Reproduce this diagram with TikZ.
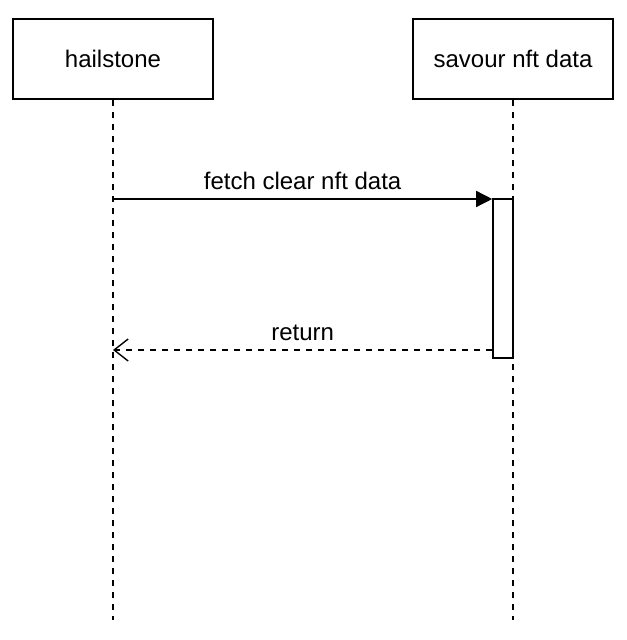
\documentclass[tikz,border=0pt]{standalone}
\usepackage{fontspec}
\setmainfont{Liberation Sans}
\usetikzlibrary{arrows.meta,positioning}

\begin{document}
\begin{tikzpicture}[x=0.5pt,y=-0.5pt,
    actor/.style={draw,line width=1pt,minimum width=100pt,minimum height=40pt,font=\fontsize{12}{14}\selectfont},
    lifeline/.style={line width=0.6pt,dash pattern=on 3pt off 3pt},
    activation/.style={draw,fill=white,line width=0.8pt,minimum width=10pt,minimum height=79.5pt,inner sep=0pt},
    msg/.style={line width=0.7pt,-{Triangle[length=8pt,width=8pt]}},
    reply/.style={line width=0.7pt,dash pattern=on 3pt off 3pt,-{Straight Barb[length=7pt,width=11pt]}},
    lbl/.style={font=\fontsize{12}{14}\selectfont,above=1pt}]
    \useasboundingbox (0,0) rectangle (626,640);

    % Participants
    \node[actor] (hailstone) at (113,59) {hailstone};
    \node[actor] (savour) at (513,59) {savour nft data};

    % Lifelines
    \coordinate (hailstone-end) at (113,620);
    \coordinate (savour-end) at (513,620);
    \draw[lifeline] (hailstone) -- (hailstone-end);
    \draw[lifeline] (savour) -- (savour-end);

    % Activation
    \node[activation] (savour-act) at (503,278.5) {};

    % Messages
    \coordinate (hailstone-fetch) at (113,199);
    \coordinate (hailstone-return) at (113,350);
    \draw[msg] (hailstone-fetch) -- (hailstone-fetch -| savour-act.west) node[lbl,midway] {fetch clear nft data};
    \draw[reply] (hailstone-return -| savour-act.west) -- (hailstone-return) node[lbl,midway] {return};
\end{tikzpicture}
\end{document}
